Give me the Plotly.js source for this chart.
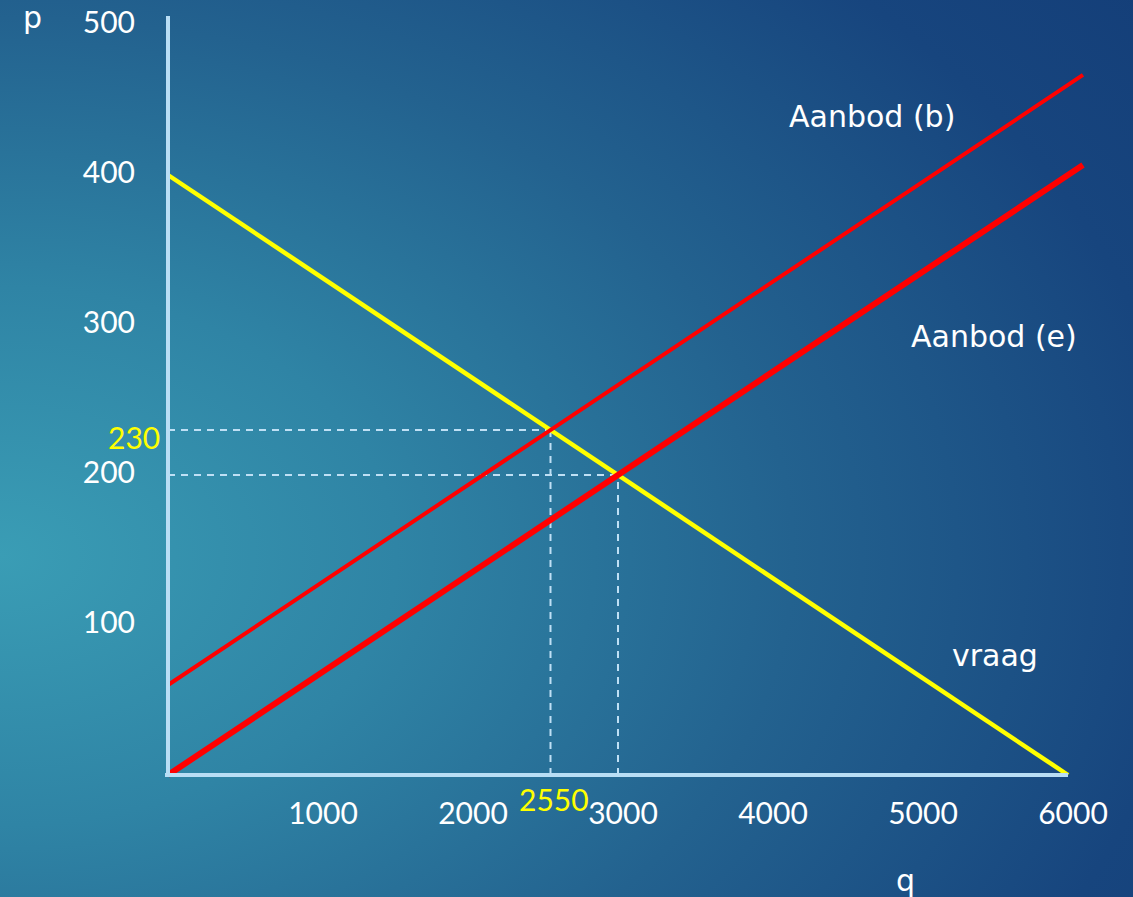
<!DOCTYPE html>
<html>
<head>
<meta charset="utf-8">
<script src="https://cdn.plot.ly/plotly-3.0.1.min.js"></script>
<style>
  html, body { margin: 0; padding: 0; }
  body {
    width: 1133px; height: 897px; overflow: hidden;
    background: radial-gradient(ellipse 140% 120% at 0% 62%, #3a9db5 0%, #2f84a5 25%, #23628f 50%, #17457e 75%, #123a75 100%);
  }
  #chart { width: 1133px; height: 897px; }
</style>
</head>
<body>
<div id="chart"></div>
<script>
// Quantity axis and price levels
const qTicks = [1000, 2000, 3000, 4000, 5000, 6000];
const pTicks = [100, 200, 300, 400, 500];

// Demand (vraag) and the two supply curves
const vraagQ = [0, 6000];
const vraagP = [400, 0];
const aanbodEQ = [0, 6100];
const aanbodEP = [0, 406.7];
const aanbodBQ = [0, 6100];
const aanbodBP = [60, 466.7];

// Equilibria
const evenwichtBQ = 2550, evenwichtBP = 230;
const evenwichtEQ = 3000, evenwichtEP = 200;

const numFont = 'Lato, "DejaVu Sans", sans-serif';
const wordFont = '"Century Gothic", "DejaVu Sans", sans-serif';
const dashColor = '#bfe0f5';
const axisColor = '#b9def5';

// plot area in pixels, used to place the free text labels
const W = 1133, H = 897;
const M = { l: 162, r: 35, t: 10, b: 107 };
const plotW = W - M.l - M.r, plotH = H - M.t - M.b;
const px = x => (x - M.l) / plotW;
const py = y => (H - M.b - y) / plotH;

const traces = [
  { x: vraagQ, y: vraagP, mode: 'lines', line: { color: '#ffff00', width: 4.5 }, hoverinfo: 'skip' },
  { x: aanbodBQ, y: aanbodBP, mode: 'lines', line: { color: '#ff0000', width: 4 }, hoverinfo: 'skip' },
  { x: aanbodEQ, y: aanbodEP, mode: 'lines', line: { color: '#ff0000', width: 6 }, hoverinfo: 'skip' }
];

const dashLine = { color: dashColor, width: 2, dash: '7px,6px' };
const shapes = [
  // guide lines to the equilibria
  { type: 'line', xref: 'x', yref: 'y', x0: 0, x1: evenwichtBQ, y0: evenwichtBP, y1: evenwichtBP, line: dashLine, layer: 'below' },
  { type: 'line', xref: 'x', yref: 'y', x0: evenwichtBQ, x1: evenwichtBQ, y0: 0, y1: evenwichtBP, line: dashLine, layer: 'below' },
  { type: 'line', xref: 'x', yref: 'y', x0: 0, x1: evenwichtEQ, y0: evenwichtEP, y1: evenwichtEP, line: dashLine, layer: 'below' },
  { type: 'line', xref: 'x', yref: 'y', x0: evenwichtEQ, x1: evenwichtEQ, y0: 0, y1: evenwichtEP, line: dashLine, layer: 'below' },
  // axes
  { type: 'line', xref: 'x', yref: 'y', x0: -20, x1: 6000, y0: 0, y1: 0, line: { color: axisColor, width: 4 } },
  { type: 'line', xref: 'x', yref: 'y', x0: 0, x1: 0, y0: 0, y1: 506, line: { color: axisColor, width: 4 } }
];

const labelFont = { family: wordFont, size: 30, color: '#ffffff' };
const annotations = [
  { text: 'Aanbod (b)', x: 872, y: 117 },
  { text: 'Aanbod (e)', x: 994, y: 337 },
  { text: 'vraag', x: 995, y: 655 },
  { text: 'p', x: 32, y: 18 },
  { text: 'q', x: 905, y: 880 }
].map(a => ({
  text: a.text, xref: 'paper', yref: 'paper',
  x: px(a.x), y: py(a.y), xanchor: 'center', yanchor: 'middle',
  showarrow: false, font: labelFont
}));
annotations.push(
  { text: String(evenwichtBP), xref: 'x', yref: 'y', x: 0, y: evenwichtBP, xanchor: 'right', yanchor: 'middle',
    xshift: -6, yshift: -7, showarrow: false, font: { family: numFont, size: 30, color: '#ffff00' } },
  { text: String(evenwichtBQ), xref: 'x', yref: 'y', x: evenwichtBQ, y: 0, xanchor: 'center', yanchor: 'top',
    xshift: 3, yshift: -4, showarrow: false, font: { family: numFont, size: 30, color: '#ffff00' } }
);

const layout = {
  width: W, height: H,
  margin: { l: M.l, r: M.r, t: M.t, b: M.b, pad: 0 },
  paper_bgcolor: 'rgba(0,0,0,0)',
  plot_bgcolor: 'rgba(0,0,0,0)',
  showlegend: false,
  xaxis: {
    range: [-40, 6200], tickvals: qTicks, ticktext: qTicks.map(String),
    showgrid: false, zeroline: false, showline: false, ticks: '',
    tickfont: { family: numFont, size: 30, color: '#ffffff' },
    ticklabelstandoff: 3, ticklabelshift: 5, fixedrange: true
  },
  yaxis: {
    range: [-10, 510], tickvals: pTicks, ticktext: pTicks.map(String),
    showgrid: false, zeroline: false, showline: false, ticks: '',
    tickfont: { family: numFont, size: 30, color: '#ffffff' },
    ticklabelstandoff: 26, ticklabelshift: -3, fixedrange: true
  },
  shapes: shapes,
  annotations: annotations
};

Plotly.newPlot('chart', traces, layout, { displayModeBar: false, staticPlot: true });
</script>
</body>
</html>
